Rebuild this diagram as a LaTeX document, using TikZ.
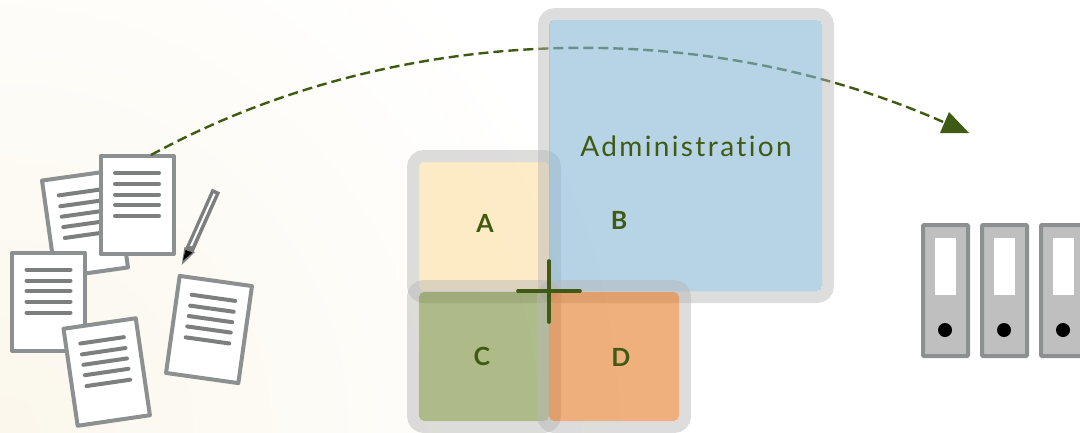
\documentclass[tikz,border=0pt]{standalone}
\usepackage{fontspec}
\setmainfont{Lato}
\newfontfamily\adminfont[LetterSpace=8.5,Ligatures={NoCommon}]{Lato}
\usetikzlibrary{calc}
\definecolor{dkgreen}{RGB}{63,90,18}
\definecolor{ringgrey}{RGB}{183,183,183}
\definecolor{paperedge}{RGB}{140,144,144}
\definecolor{paperline}{RGB}{125,127,126}
\definecolor{binderfill}{RGB}{191,191,191}
\definecolor{cream}{RGB}{251,247,236}
\definecolor{fillA}{RGB}{253,221,155}
\definecolor{fillB}{RGB}{133,183,213}
\definecolor{fillC}{RGB}{110,133,44}
\definecolor{fillD}{RGB}{226,111,20}
\tikzset{
  x=1pt,y=-1pt,
  ring/.style={draw=ringgrey,draw opacity=.47,line width=12pt,rounded corners=11pt},
  panelfill/.style={fill opacity=#1,rounded corners=5pt},
  paperbox/.style={draw=paperedge,line width=4pt,fill=white,line join=round},
  textline/.style={draw=paperline,line width=4pt,line cap=round},
  binderbox/.style={draw=paperedge,line width=4pt,fill=binderfill,rounded corners=1pt},
  flowarrow/.style={draw=dkgreen,line width=2.4pt,dash pattern=on 10pt off 5pt},
  celltext/.style={text=dkgreen,font=\fontsize{25}{28}\selectfont\bfseries,inner sep=0pt},
}
\newcommand{\sheet}[3]{%
  \begin{scope}[shift={(#1,#2)},rotate=#3]
    \draw[paperbox] (-36.5,-49) rectangle (36.5,49);
    \foreach \yy in {-32,-21,-10.5,0,11}
      \draw[textline] (-22,\yy) -- (22,\yy);
  \end{scope}}
\newcommand{\binder}[1]{%
  \begin{scope}[shift={(#1,0)}]
    \draw[binderbox] (923,225) rectangle (968,356);
    \fill[white] (935,238) rectangle (956,295);
    \fill[black] (945,330) circle (7);
  \end{scope}}
\begin{document}
\begin{tikzpicture}
\useasboundingbox (0,0) rectangle (1080,432);
\clip (0,0) rectangle (1080,432);
\shade[inner color=cream,outer color=white] (0,432) circle (620);
% papers
\sheet{85}{224}{8}
\sheet{137}{205}{0}
\sheet{48.5}{301.5}{0}
\sheet{106.7}{372}{8.3}
\sheet{209}{329.5}{-8}
% pencil
\draw[paperline,line width=9pt] (216,190.5) -- (189.5,250);
\draw[white,line width=2pt] (214.6,193.7) -- (191,246);
\fill[paperline] (184.5,247) -- (195,252) -- (181.7,265) -- cycle;
\fill[black] (185.5,250) -- (192.5,252.5) -- (183,260.5) -- cycle;
% binders
\binder{0}\binder{59}\binder{118}
% connector
\coordinate (flowstart) at (151,155);
\coordinate (flowend) at (950,125);
\coordinate (tipA) at (949,112);
\coordinate (tipB) at (969,133);
\coordinate (tipC) at (940,133);
\draw[flowarrow] (flowstart) .. controls (391,24) and (700,12) .. (flowend);
\fill[dkgreen] (tipA) -- (tipB) -- (tipC) -- cycle;
% panels
\fill[fillA,panelfill=.55] (419,162) rectangle (549,291);
\draw[ring] (413,156) rectangle (555,297);
\fill[fillB,panelfill=.6] (549,20) rectangle (822,291);
\draw[ring] (544,14) rectangle (828,297);
\fill[fillC,panelfill=.55] (419,292) rectangle (549,421);
\draw[ring] (413,286) rectangle (555,427);
\fill[fillD,panelfill=.55] (549,292) rectangle (679,421);
\draw[ring] (543,286) rectangle (685,427);
% cross
\coordinate (crossW) at (518,291);
\coordinate (crossE) at (580,291);
\coordinate (crossN) at (549,261);
\coordinate (crossS) at (549,322);
\draw[dkgreen,line width=3.6pt,line cap=round] (crossW) -- (crossE);
\draw[dkgreen,line width=3.6pt,line cap=round] (crossN) -- (crossS);
% labels
\node[text=dkgreen,inner sep=0pt,font=\adminfont\fontsize{28}{32}\selectfont] (admin) at (686,146) {Administration};
\node[celltext] (cellA) at (485,223) {A};
\node[celltext] (cellB) at (619,220) {B};
\node[celltext] (cellC) at (482,356) {C};
\node[celltext] (cellD) at (621,357) {D};
\end{tikzpicture}
\end{document}
